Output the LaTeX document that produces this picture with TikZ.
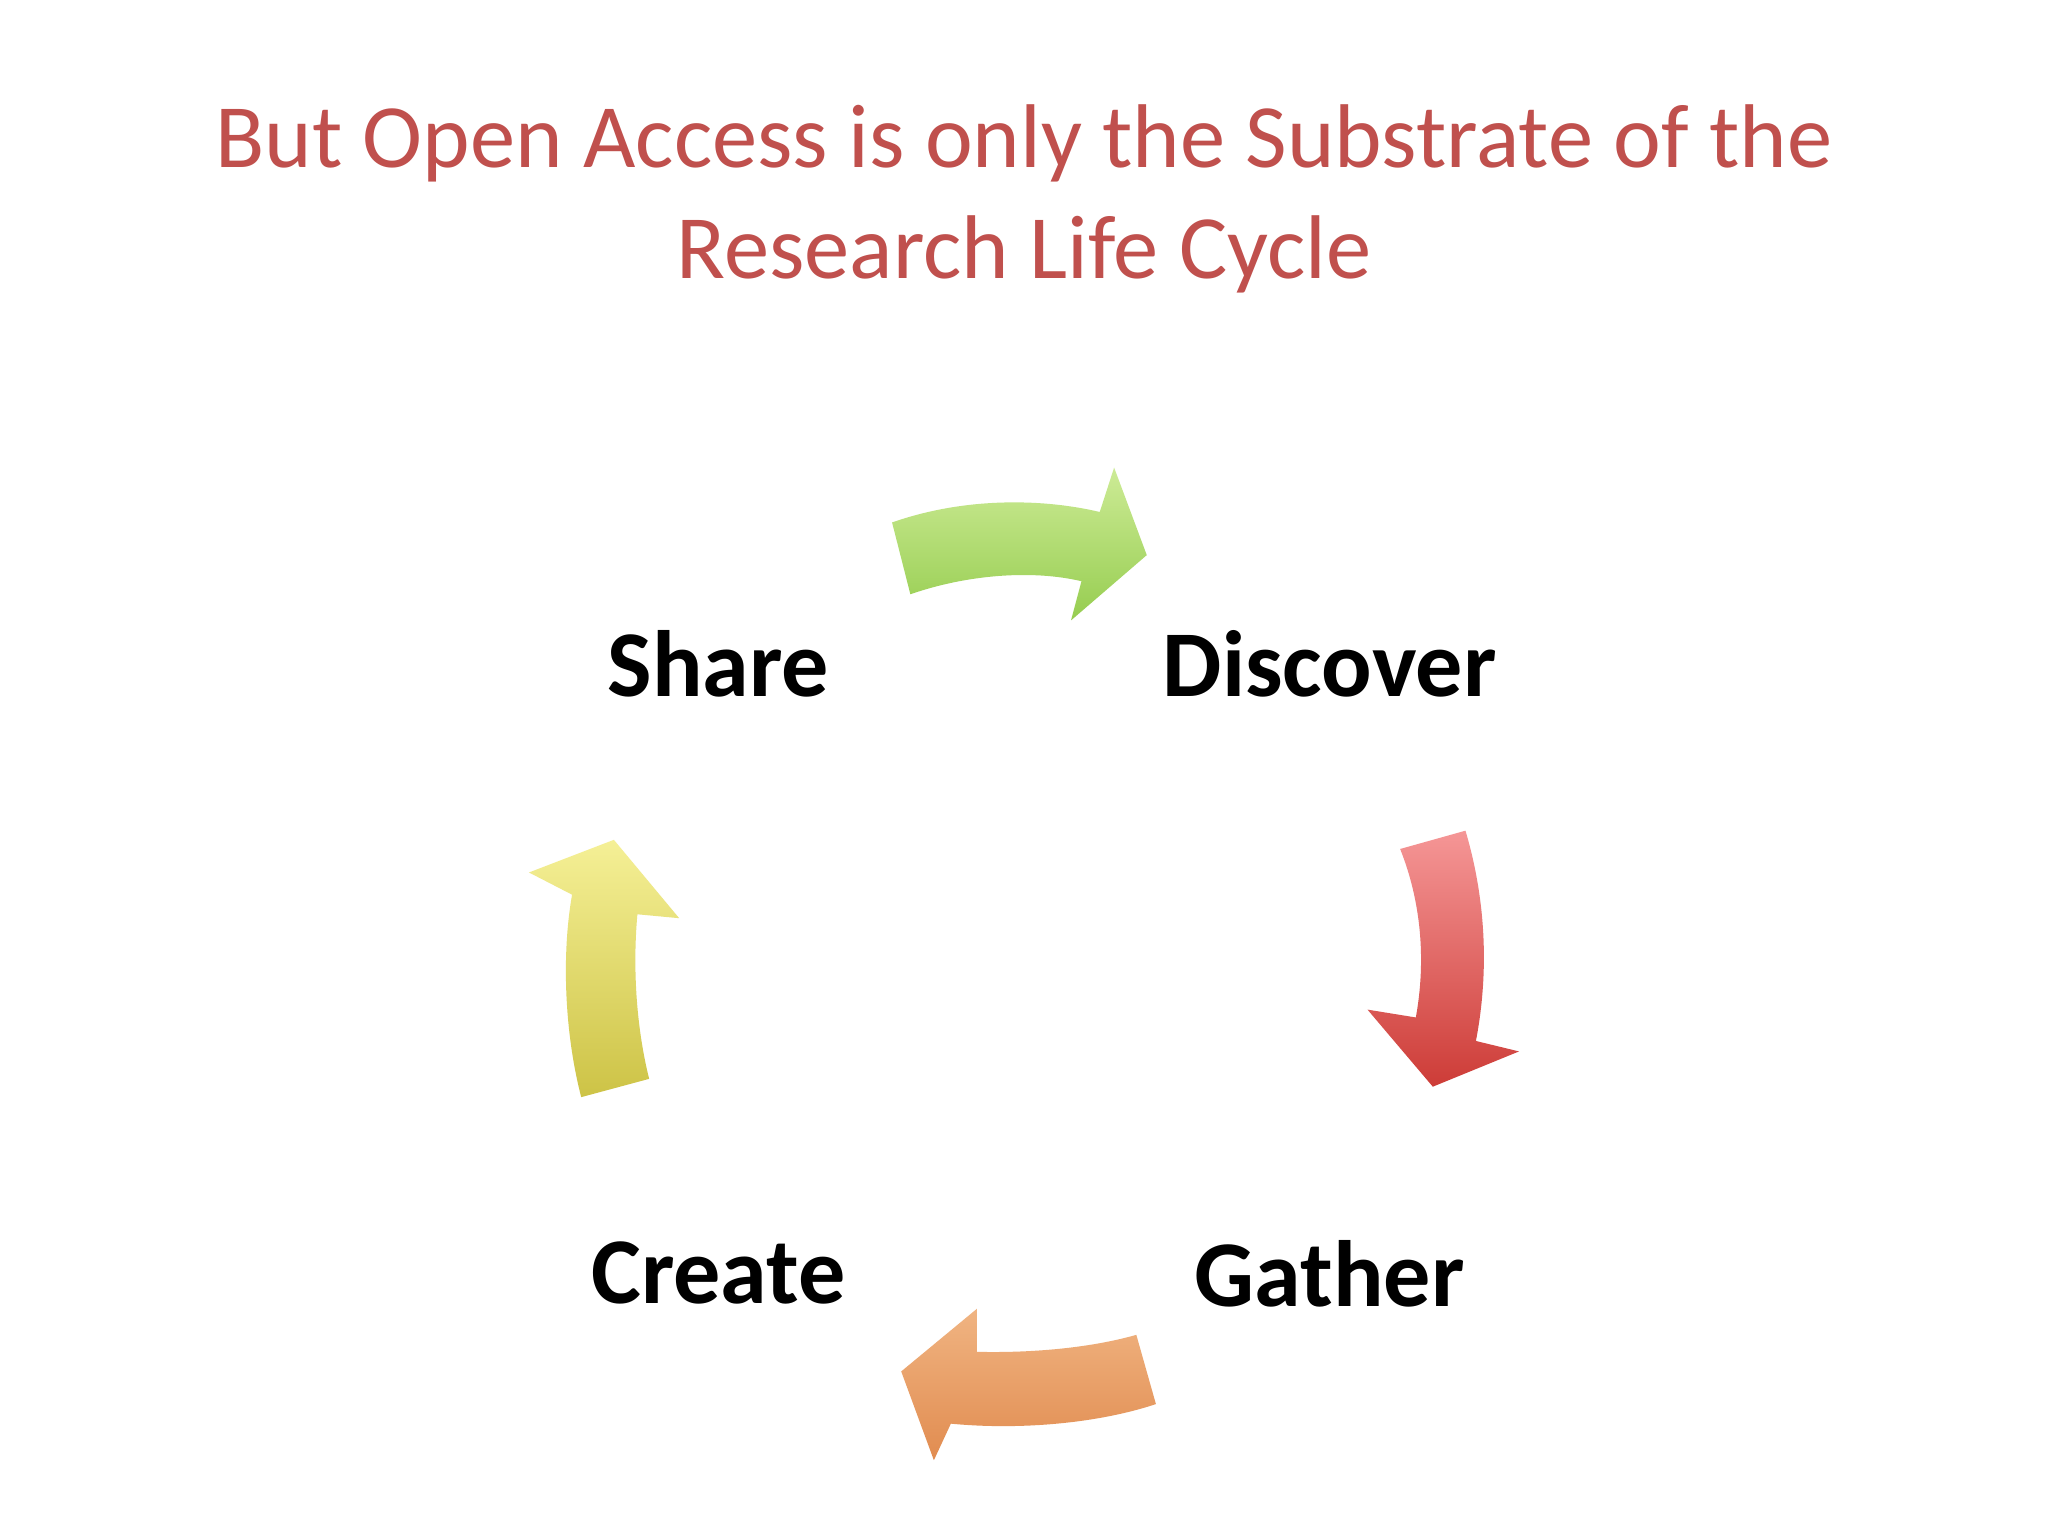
\documentclass[tikz,border=0pt]{standalone}
\usepackage{fontspec}
\setmainfont{Carlito}
\definecolor{titlered}{RGB}{192,80,77}
\begin{document}
\begin{tikzpicture}[x=0.01cm,y=-0.01cm,
  lbl/.style={font=\fontsize{20.5}{24}\selectfont\bfseries,text=black},
  arr/.style={draw=none}]
\useasboundingbox (0,0) rectangle (1568,1176);
\fill[white] (0,0) rectangle (1568,1176);
\node[text=titlered,align=center,font=\fontsize{19.7}{24.2}\selectfont] (title) at (784,152)
  {But Open Access is only the Substrate of the\\Research Life Cycle};
\node[lbl] (share) at (550,508) {Share};
\node[lbl] (disc) at (1018,508) {Discover};
\node[lbl] (create) at (550,975) {Create};
\node[lbl] (gather) at (1018,975) {Gather};
% green
\shade[arr,top color={rgb,255:red,205;green,235;blue,150},bottom color={rgb,255:red,150;green,205;blue,80}]
 (683,400) .. controls (740,380) and (800,382) .. (842,392) -- (853,358) -- (878,425) -- (820,475) -- (828,445)
 .. controls (790,436) and (740,440) .. (697,455) -- cycle;
% red
\shade[arr,top color={rgb,255:red,245;green,150;blue,150},bottom color={rgb,255:red,205;green,60;blue,55}]
 (1072,650) -- (1122,636) .. controls (1138,690) and (1140,745) .. (1130,797) -- (1163,805) -- (1097,832) -- (1047,773)
 -- (1084,779) .. controls (1092,735) and (1088,690) .. (1072,650) -- cycle;
% orange
\shade[arr,top color={rgb,255:red,240;green,180;blue,130},bottom color={rgb,255:red,225;green,140;blue,80}]
 (870,1022) -- (885,1075) .. controls (840,1090) and (780,1095) .. (728,1090) -- (715,1118) -- (690,1050) -- (748,1002)
 -- (748,1035) .. controls (790,1036) and (835,1032) .. (870,1022) -- cycle;
% yellow
\shade[arr,top color={rgb,255:red,245;green,240;blue,150},bottom color={rgb,255:red,205;green,195;blue,70}]
 (445,840) .. controls (432,790) and (430,730) .. (438,685) -- (405,668) -- (470,643) -- (520,703) -- (488,700)
 .. controls (484,745) and (488,790) .. (497,826) -- cycle;
\end{tikzpicture}
\end{document}
